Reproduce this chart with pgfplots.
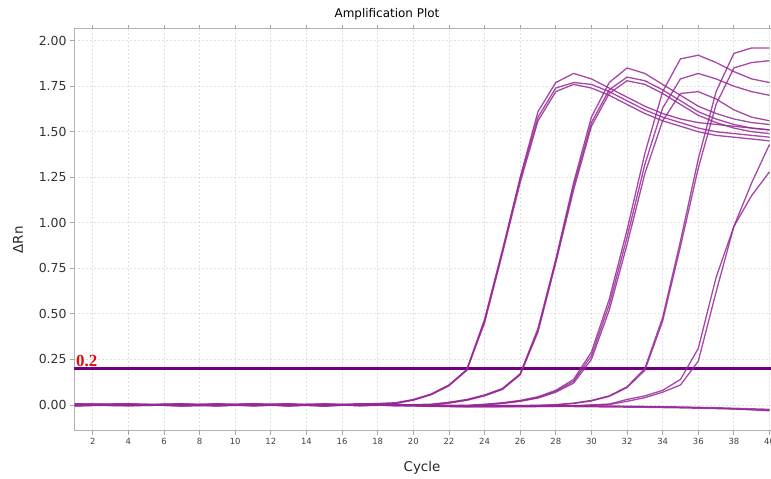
\documentclass[border=0pt]{standalone}
\usepackage{pgfplots}
\pgfplotsset{compat=1.18}
\usepackage{fontspec}
\setmainfont{DejaVu Sans}
\newfontfamily\thrfont{Liberation Serif}

\definecolor{curve}{RGB}{150,40,150}
\definecolor{thr}{RGB}{110,0,125}
\definecolor{thrtext}{RGB}{225,10,10}

\begin{document}
\begin{tikzpicture}
\useasboundingbox (0,0) rectangle (771bp,479bp);
\begin{axis}[
    at={(74bp,48bp)}, anchor=south west,
    scale only axis,
    width=698bp, height=402bp,
    xmin=0.95, xmax=40.14,
    ymin=-0.143, ymax=2.064,
    xtick={2,4,...,40},
    ytick={0,0.25,...,2.0},
    y tick label style={/pgf/number format/fixed, /pgf/number format/fixed zerofill, /pgf/number format/precision=2},
    /pgf/number format/assume math mode=true,
    tick align=outside,
    major tick length=4bp,
    tick style={gray!70, line width=0.8bp},
    xticklabel style={font=\fontsize{8.5}{10}\selectfont, text=black!75},
    yticklabel style={font=\fontsize{12.5}{14}\selectfont, text=black!80},
    axis line style={gray!60, line width=1bp},
    grid=major,
    major grid style={gray!25, dash pattern=on 2bp off 2bp, line width=0.8bp},
    amp/.style={curve, solid, mark=none, line width=1.3bp, opacity=0.85},
    clip=true,
]
% threshold
\addplot[thr, mark=none, line width=3.5bp] coordinates {(0.95,0.2) (40.14,0.2)};
% group A
\addplot[amp] coordinates {(1,0.004)(4,0.002)(7,0.006)(9,-0.002)(11,0.000)(13,0.006)(15,-0.002)(17,0.004)(19,0.012)(20,0.03)(21,0.06)(22,0.11)(23,0.19)(24,0.46)(25,0.84)(26,1.25)(27,1.61)(28,1.77)(29,1.82)(30,1.79)(31,1.74)(32,1.69)(33,1.64)(34,1.60)(35,1.57)(36,1.55)(37,1.54)(38,1.53)(39,1.52)(40,1.51)};
\addplot[amp] coordinates {(1,-0.002)(4,0.000)(7,0.002)(9,-0.006)(11,0.003)(13,-0.002)(15,0.000)(17,0.002)(19,0.010)(20,0.028)(21,0.058)(22,0.108)(23,0.195)(24,0.47)(25,0.85)(26,1.24)(27,1.58)(28,1.74)(29,1.77)(30,1.76)(31,1.72)(32,1.67)(33,1.62)(34,1.58)(35,1.55)(36,1.52)(37,1.50)(38,1.49)(39,1.48)(40,1.47)};
\addplot[amp] coordinates {(1,0.001)(4,-0.004)(7,0.000)(9,0.004)(11,-0.006)(13,0.002)(15,0.004)(17,-0.002)(19,0.008)(20,0.026)(21,0.056)(22,0.105)(23,0.19)(24,0.45)(25,0.83)(26,1.22)(27,1.56)(28,1.72)(29,1.76)(30,1.74)(31,1.70)(32,1.65)(33,1.60)(34,1.56)(35,1.53)(36,1.50)(37,1.48)(38,1.47)(39,1.46)(40,1.45)};
% group B
\addplot[amp] coordinates {(1,0.006)(4,0.003)(7,-0.003)(9,0.002)(11,0.006)(13,-0.004)(15,0.002)(17,0.005)(19,0.000)(21,0.004)(22,0.015)(23,0.03)(24,0.055)(25,0.09)(26,0.17)(27,0.42)(28,0.80)(29,1.22)(30,1.58)(31,1.77)(32,1.85)(33,1.82)(34,1.76)(35,1.70)(36,1.64)(37,1.60)(38,1.57)(39,1.55)(40,1.54)};
\addplot[amp] coordinates {(1,-0.005)(4,0.004)(7,-0.001)(9,-0.004)(11,0.002)(13,0.005)(15,-0.004)(17,0.000)(19,-0.003)(21,0.002)(22,0.012)(23,0.028)(24,0.052)(25,0.088)(26,0.17)(27,0.41)(28,0.79)(29,1.20)(30,1.55)(31,1.73)(32,1.80)(33,1.78)(34,1.73)(35,1.67)(36,1.61)(37,1.57)(38,1.54)(39,1.52)(40,1.51)};
\addplot[amp] coordinates {(1,0.002)(4,-0.002)(7,0.004)(9,0.001)(11,-0.003)(13,0.000)(15,0.006)(17,-0.004)(19,0.002)(21,0.000)(22,0.01)(23,0.025)(24,0.05)(25,0.085)(26,0.165)(27,0.40)(28,0.78)(29,1.18)(30,1.53)(31,1.71)(32,1.78)(33,1.76)(34,1.71)(35,1.65)(36,1.59)(37,1.55)(38,1.52)(39,1.50)(40,1.49)};
% group C
\addplot[amp] coordinates {(1,0.003)(4,0.005)(7,-0.004)(9,0.003)(11,0.004)(13,-0.005)(15,0.001)(17,0.003)(19,-0.002)(21,-0.004)(23,-0.002)(24,0.004)(25,0.012)(26,0.025)(27,0.045)(28,0.08)(29,0.14)(30,0.29)(31,0.58)(32,0.96)(33,1.38)(34,1.72)(35,1.90)(36,1.92)(37,1.88)(38,1.83)(39,1.79)(40,1.77)};
\addplot[amp] coordinates {(1,-0.003)(4,0.001)(7,0.005)(9,-0.003)(11,-0.002)(13,0.003)(15,-0.006)(17,0.002)(19,0.004)(21,-0.006)(23,-0.005)(24,0.002)(25,0.01)(26,0.022)(27,0.04)(28,0.075)(29,0.13)(30,0.27)(31,0.55)(32,0.92)(33,1.32)(34,1.63)(35,1.79)(36,1.82)(37,1.79)(38,1.75)(39,1.72)(40,1.70)};
\addplot[amp] coordinates {(1,0.000)(4,-0.005)(7,0.001)(9,0.005)(11,-0.004)(13,0.001)(15,0.003)(17,-0.005)(19,0.001)(21,-0.002)(23,-0.004)(24,0.000)(25,0.008)(26,0.02)(27,0.038)(28,0.07)(29,0.12)(30,0.25)(31,0.52)(32,0.88)(33,1.27)(34,1.56)(35,1.71)(36,1.72)(37,1.68)(38,1.62)(39,1.58)(40,1.56)};
% group D
\addplot[amp] coordinates {(1,0.005)(4,-0.001)(7,0.003)(9,-0.005)(11,0.005)(13,0.003)(15,-0.003)(17,0.004)(19,-0.004)(21,0.000)(23,-0.006)(25,-0.004)(27,-0.002)(28,0.002)(29,0.01)(30,0.025)(31,0.05)(32,0.10)(33,0.20)(34,0.48)(35,0.90)(36,1.35)(37,1.72)(38,1.93)(39,1.96)(40,1.96)};
\addplot[amp] coordinates {(1,-0.004)(4,0.003)(7,-0.005)(9,0.000)(11,0.001)(13,-0.003)(15,0.005)(17,-0.001)(19,0.003)(21,-0.005)(23,-0.008)(25,-0.006)(27,-0.004)(28,0.000)(29,0.008)(30,0.022)(31,0.047)(32,0.095)(33,0.19)(34,0.46)(35,0.87)(36,1.30)(37,1.65)(38,1.85)(39,1.88)(40,1.89)};
% group E
\addplot[amp] coordinates {(1,0.002)(4,0.004)(7,-0.002)(9,0.004)(11,-0.001)(13,0.004)(15,-0.005)(17,0.003)(19,-0.003)(21,-0.005)(23,-0.008)(25,-0.008)(27,-0.007)(29,-0.004)(31,0.005)(32,0.03)(33,0.05)(34,0.08)(35,0.14)(36,0.31)(37,0.70)(38,0.98)(39,1.22)(40,1.43)};
\addplot[amp] coordinates {(1,-0.001)(4,-0.003)(7,0.004)(9,-0.001)(11,0.004)(13,-0.004)(15,0.002)(17,-0.003)(19,0.002)(21,-0.007)(23,-0.010)(25,-0.010)(27,-0.009)(29,-0.006)(31,0.002)(32,0.02)(33,0.04)(34,0.07)(35,0.11)(36,0.24)(37,0.62)(38,0.98)(39,1.15)(40,1.28)};
% no amplification
\addplot[amp] coordinates {(1,0.004)(4,-0.002)(7,0.000)(9,0.006)(11,-0.002)(13,0.004)(15,0.000)(17,-0.002)(19,0.002)(21,-0.004)(23,-0.006)(25,-0.006)(27,-0.005)(29,-0.006)(31,-0.008)(33,-0.010)(35,-0.013)(37,-0.018)(38,-0.022)(39,-0.027)(40,-0.032)};
\addplot[amp] coordinates {(1,-0.006)(4,0.002)(7,-0.004)(9,0.001)(11,0.002)(13,-0.006)(15,0.004)(17,0.001)(19,-0.004)(21,-0.008)(23,-0.010)(25,-0.009)(27,-0.008)(29,-0.009)(31,-0.011)(33,-0.013)(35,-0.016)(37,-0.020)(38,-0.022)(39,-0.025)(40,-0.028)};
\addplot[amp] coordinates {(1,0.000)(4,0.006)(7,-0.006)(9,-0.002)(11,0.006)(13,0.000)(15,-0.006)(17,0.006)(19,0.000)(21,-0.002)(23,-0.004)(25,-0.003)(27,-0.003)(29,-0.004)(31,-0.006)(33,-0.008)(35,-0.011)(37,-0.015)(38,-0.018)(39,-0.021)(40,-0.024)};
\node[anchor=south west, inner sep=0pt, text=thrtext, font=\thrfont\bfseries\fontsize{17}{17}\selectfont] at (axis cs:0.95,0.2) [xshift=2bp, yshift=1.5bp] {0.2};
\end{axis}
\node[font=\fontsize{12}{14}\selectfont] at (387bp,465bp) {Amplification Plot};
\node[font=\fontsize{13.5}{15}\selectfont, text=black!85] at (422bp,11bp) {Cycle};
\node[font=\fontsize{13.5}{15}\selectfont, text=black!85, rotate=90] at (18bp,239bp) {ΔRn};
\end{tikzpicture}
\end{document}
